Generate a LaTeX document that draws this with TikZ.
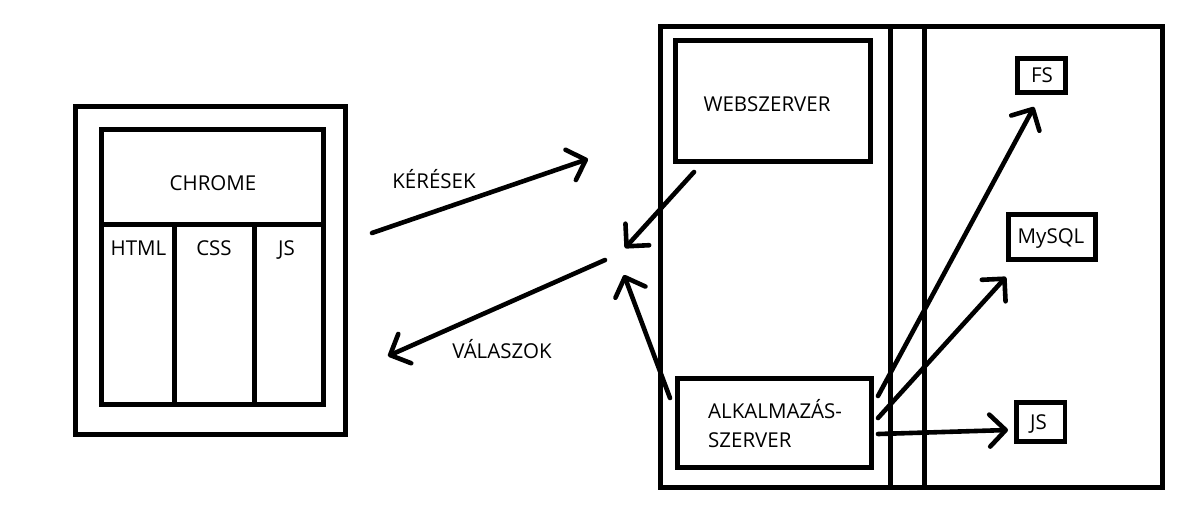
\documentclass[tikz,border=0pt]{standalone}
\usepackage{fontspec}
\setmainfont{Open Sans}
\usetikzlibrary{arrows.meta}
\tikzset{
  box/.style 2 args={draw, line width=4.8pt, inner sep=0pt, minimum width=#1pt, minimum height=#2pt},
  lbl/.style={anchor=base, inner sep=0pt, font=\fontsize{20.5}{29}\selectfont},
  arr/.style={line width=4.6pt, line cap=round, -{Straight Barb[length=16pt,width=32pt,round]}}
}
\begin{document}
\begin{tikzpicture}[x=1pt,y=-1pt]
\fill[white] (0,0) rectangle (1188,531);
\useasboundingbox (0,0) rectangle (1188,531);

% browser
\node[box={270}{328}] (browser) at (210.5,270.5) {};
\node[box={222}{95}] (chrome) at (212.5,177) {};
\node[box={73}{180}] (html) at (138,314.5) {};
\node[box={80}{180}] (css) at (214.5,314.5) {};
\node[box={69}{180}] (jsl) at (289,314.5) {};
\node[lbl] (chromet) at (213,190) {CHROME};
\node[lbl] (htmlt) at (138.5,255.5) {HTML};
\node[lbl] (csst) at (214,255.5) {CSS};
\node[lbl] (jslt) at (286.5,255.5) {JS};

% server
\node[box={502}{461}] (server) at (911.5,257) {};
\node[box={34}{461}] (mid) at (907.5,257) {};
\node[box={195}{121}] (web) at (773,101) {};
\node[box={194}{89}] (alk) at (774.5,423) {};
\node[box={48}{34}] (fs) at (1041.5,75.5) {};
\node[box={87}{45}] (mysql) at (1052,237) {};
\node[box={48.5}{39}] (jsr) at (1040.75,422) {};
\node[lbl] (webt) at (767,111) {WEBSZERVER};
\node[lbl, anchor=base west, align=left] (alkt) at (708,447) {ALKALMAZÁS-\\SZERVER};
\node[lbl] (fst) at (1042,82.5) {FS};
\node[lbl] (mysqlt) at (1051,243) {MySQL};
\node[lbl] (jsrt) at (1038.5,429) {JS};

% labels
\node[lbl] (ker) at (434,188) {KÉRÉSEK};
\node[lbl] (val) at (502,358) {VÁLASZOK};

% arrow ends
\coordinate (k1) at (372,233);
\coordinate (k2) at (588,159);
\coordinate (v1) at (605,260);
\coordinate (v2) at (388,356);
\coordinate (w1) at (694,172);
\coordinate (w2) at (625,248);
\coordinate (a1) at (670,398);
\coordinate (a2) at (624,275);
\coordinate (f1) at (878,396);
\coordinate (f2) at (1034,107);
\coordinate (m1) at (878,418);
\coordinate (m2) at (1006,277);
\coordinate (j1) at (878,434);
\coordinate (j2) at (1008,430);

\draw[arr] (k1) -- (k2);
\draw[arr] (v1) -- (v2);
\draw[arr] (w1) -- (w2);
\draw[arr] (a1) -- (a2);
\draw[arr] (f1) -- (f2);
\draw[arr] (m1) -- (m2);
\draw[arr] (j1) -- (j2);
\end{tikzpicture}
\end{document}
